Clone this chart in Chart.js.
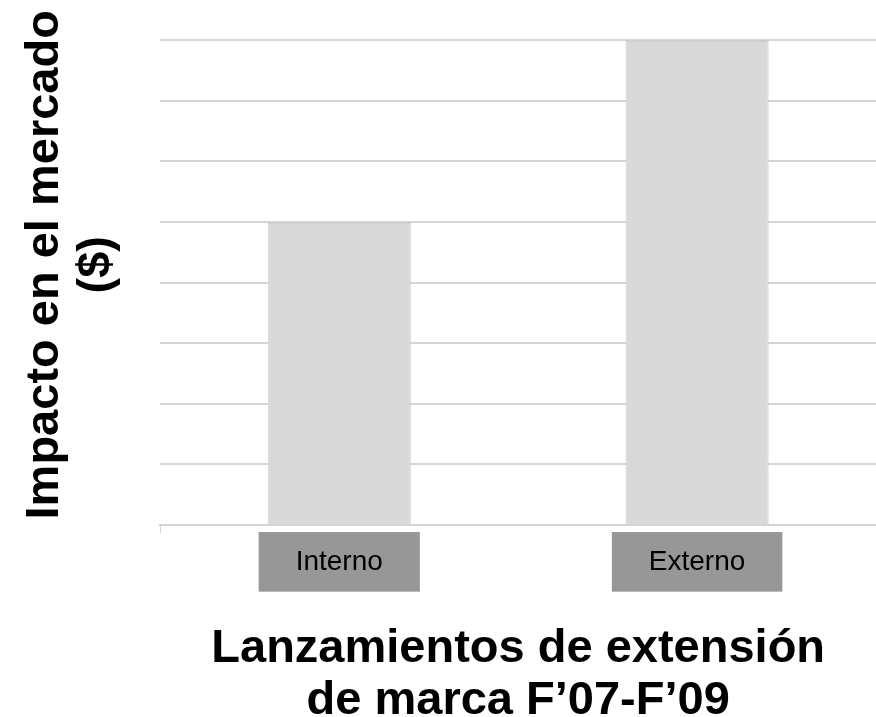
<!DOCTYPE html>
<html>
<head>
<meta charset="utf-8">
<script src="https://cdn.jsdelivr.net/npm/chart.js@4.4.1/dist/chart.umd.min.js"></script>
<style>
  html, body { margin: 0; padding: 0; background: #fff; }
  #wrap { width: 876px; height: 717px; }
</style>
</head>
<body>
<div id="wrap"><canvas id="chart"></canvas></div>
<script>
const categories = ["Interno", "Externo"];
const impactValues = [5, 8];
// leading spaces nudge the rotated title up, as in the original
const yTitleLines = ["  \u2009Impacto en el mercado", "  \u2009($)"];
const xTitleLines = ["Lanzamientos de extensión", "de marca F’07-F’09"];

const gridGray = "#d5d5d5";
const font = "Arial, 'Liberation Sans', sans-serif";

const context = document.getElementById("chart").getContext("2d");
new Chart(context, {
  type: "bar",
  data: {
    labels: categories,
    datasets: [{
      data: impactValues,
      backgroundColor: "#d9d9d9",
      borderColor: "#cfcfcf",
      borderWidth: { top: 2, left: 1, right: 1, bottom: 0 },
      borderSkipped: false,
      barPercentage: 0.4,
      categoryPercentage: 1
    }]
  },
  options: {
    responsive: true,
    maintainAspectRatio: false,
    animation: false,
    layout: { padding: { top: 40, right: 0, bottom: -10, left: 0 } },
    plugins: {
      legend: { display: false },
      tooltip: { enabled: false }
    },
    scales: {
      x: {
        offset: true,
        grid: {
          offset: true,
          drawOnChartArea: false,
          tickLength: 8,
          color: (ctx) => (ctx.index === 0 ? gridGray : "rgba(0,0,0,0)")
        },
        border: { color: gridGray, width: 2 },
        ticks: {
          color: "#000",
          font: { family: font, size: 28 },
          padding: 12,
          showLabelBackdrop: true,
          backdropColor: "#979797",
          backdropPadding: { top: 13, bottom: 13, left: 37, right: 37 }
        },
        title: {
          display: true,
          text: xTitleLines,
          color: "#000",
          font: { family: font, size: 47, weight: "bold", lineHeight: 1.11 },
          padding: { top: 32, bottom: 0 }
        }
      },
      y: {
        min: 0,
        max: 8,
        grid: {
          color: gridGray,
          lineWidth: 2,
          drawTicks: false
        },
        border: { display: false },
        ticks: { display: false, stepSize: 1 },
        title: {
          display: true,
          text: yTitleLines,
          color: "#000",
          font: { family: font, size: 47, weight: "bold", lineHeight: 1.11 },
          padding: { top: 19, bottom: 37 }
        }
      }
    }
  }
});
</script>
</body>
</html>
